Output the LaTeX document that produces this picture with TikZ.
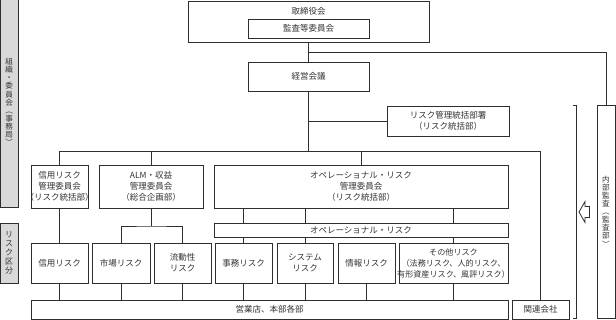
\documentclass[tikz,border=0pt]{standalone}
\usepackage{fontspec}
\setmainfont{Noto Sans CJK JP}
\definecolor{ln}{HTML}{2E2E2E}
\definecolor{gr}{HTML}{D9D9D9}
\definecolor{tx}{HTML}{333333}
\newcommand\myfs{\fontsize{8.5}{11}\selectfont}
\newcommand\smfs{\fontsize{8.1}{11}\selectfont}
\newcommand\vfs{\fontsize{7.6}{8.1}\selectfont\lineskiplimit=-10pt\relax}
\newcommand\vfsb{\fontsize{8}{9}\selectfont\lineskiplimit=-10pt\relax}
\tikzset{
  box/.style={draw=ln, line width=0.9pt, fill=white, inner sep=0pt, align=center, font=\myfs, text=tx},
  gbox/.style={draw=ln, line width=0.9pt, fill=gr, inner sep=0pt, align=center, text=tx},
  txt/.style={inner sep=0pt, align=center, font=\myfs, text=tx},
  conn/.style={draw=ln, line width=0.8pt}
}
\begin{document}
\begin{tikzpicture}[x=1pt,y=-1pt]
\useasboundingbox (0,0) rectangle (616,320);
% top
\node[box, minimum width=241pt, minimum height=41pt] (tb) at (308.5,21.5) {};
\node[txt] (tbt) at (308.5,11) {取締役会};
\node[box, minimum width=121pt, minimum height=19pt] (kansa) at (308.5,28.5) {監査等委員会};
\node[box, minimum width=121pt, minimum height=29pt] (keiei) at (308.5,76.5) {経営会議};
\node[box, minimum width=122pt, minimum height=30pt] (rk) at (448,121) {リスク管理統括部署\\（リスク統括部）};
% committees
\node[box, minimum width=57pt, minimum height=43pt] (shc) at (59.5,186.5) {信用リスク\\管理委員会\\\makebox[50pt]{（リスク統括部）}};
\node[box, minimum width=104pt, minimum height=43pt] (alm) at (151,186.5) {ALM・収益\\管理委員会\\（総合企画部）};
\node[box, minimum width=294pt, minimum height=43pt] (opc) at (361,186.5) {オペレーショナル・リスク\\管理委員会\\（リスク統括部）};
\node[box, minimum width=294pt, minimum height=14pt] (band) at (361,230) {オペレーショナル・リスク};
% risks
\node[box, minimum width=57pt, minimum height=40pt] (shr) at (59.5,263) {信用リスク};
\node[box, minimum width=58pt, minimum height=40pt] (ichiba) at (121,263) {市場リスク};
\node[box, minimum width=57pt, minimum height=40pt] (ryudo) at (182.5,263) {流動性\\リスク};
\node[box, minimum width=57pt, minimum height=40pt] (jimu) at (243.5,263) {事務リスク};
\node[box, minimum width=56pt, minimum height=40pt] (sys) at (305,263) {システム\\リスク};
\node[box, minimum width=57pt, minimum height=40pt] (joho) at (366.5,263) {情報リスク};
\node[box, minimum width=109pt, minimum height=40pt, font=\smfs] (sonota) at (453.5,263) {その他リスク\\\makebox[0pt]{（法務リスク、人的リスク、}\\\makebox[0pt]{有形資産リスク、風評リスク）}};
% bottom
\node[box, minimum width=477pt, minimum height=19pt] (eigyo) at (269.5,309.5) {営業店、本部各部};
\node[box, minimum width=57pt, minimum height=19pt] (kanren) at (540.5,309.5) {関連会社};
% audit
\node[box, minimum width=18pt, minimum height=213pt, font=\vfs] (audit) at (606,211.5) {内\\部\\監\\査\\︵\\監\\査\\部\\︶};
% left labels
\node[gbox, minimum width=17.5pt, minimum height=210pt, font=\vfs] (lab1) at (9.25,102) {組\\織\\・\\委\\員\\会\\︵\\事\\務\\局\\︶};
\node[gbox, minimum width=17.5pt, minimum height=60pt, font=\vfsb] (lab2) at (9.25,253) {リ\\ス\\ク\\区\\分};
% coordinates
\coordinate (aud) at (308.5,52);
\coordinate (busL) at (59.5,151);
\coordinate (busR) at (540.5,151);
\coordinate (almfork) at (151,226);
% connectors
\draw[conn] (tb.south) -- (keiei.north);
\draw[conn] (aud) -- (audit.north |- aud) -- (audit.north);
\draw[conn] (keiei.south) -- (keiei.south |- busL);
\draw[conn] (keiei.south |- rk.west) -- (rk.west);
\draw[conn] (busL) -- (busR);
\draw[conn] (busL) -- (shc.north);
\draw[conn] (alm.north |- busL) -- (alm.north);
\draw[conn] (opc.north |- busL) -- (opc.north);
\draw[conn] (busR) -- (kanren.north);
\draw[conn] (shc.south) -- (shr.north);
\draw[conn] (alm.south) -- (almfork);
\draw[conn] (ichiba.north) |- (almfork) -| (ryudo.north);
\foreach \n in {jimu,sys,sonota}{
  \draw[conn] (opc.south -| \n.north) -- (band.north -| \n.north);
  \draw[conn] (band.south -| \n.north) -- (\n.north);
}
\foreach \n in {shr,ichiba,ryudo,jimu,sys,joho,sonota}{
  \draw[conn] (\n.south) -- (eigyo.north -| \n.south);
}
% bracket
\draw[conn] (572.5,105) -- (576.5,105) -- (576.5,318) -- (572.5,318);
% hollow arrow
\draw[draw=ln, line width=0.8pt, fill=white, line join=miter] (579,212) -- (585,201.5) -- (585,206.5) -- (589.5,206.5) -- (589.5,217.5) -- (585,217.5) -- (585,222.5) -- cycle;
\end{tikzpicture}
\end{document}
